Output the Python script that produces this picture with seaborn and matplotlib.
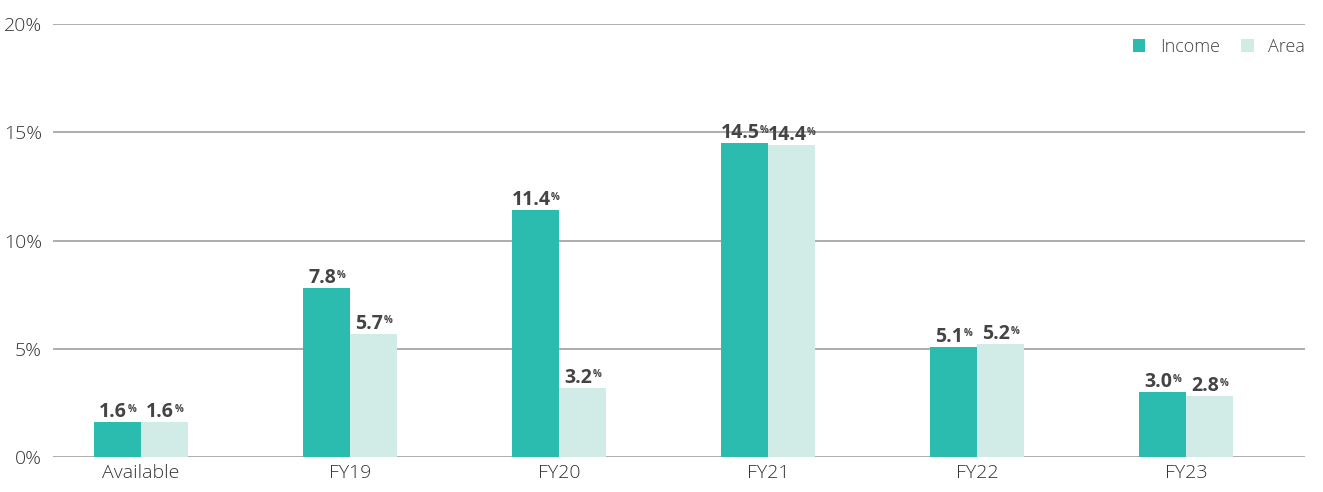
import pandas as pd
import matplotlib.pyplot as plt
import seaborn as sns

categories = ['Available', 'FY19', 'FY20', 'FY21', 'FY22', 'FY23']
income = [1.6, 7.8, 11.4, 14.5, 5.1, 3.0]
area = [1.6, 5.7, 3.2, 14.4, 5.2, 2.8]
series = ['Income', 'Area']
colors = ['#2bbcaf', '#d1ebe7']
yticks = [0, 5, 10, 15, 20]

df = pd.DataFrame({'cat': categories * 2,
                   'series': ['Income'] * len(categories) + ['Area'] * len(categories),
                   'value': income + area})

sns.set_style('white')
plt.rcParams['font.family'] = ['Open Sans', 'DejaVu Sans']

fig = plt.figure(figsize=(13.23, 4.92), dpi=100)
ax = fig.add_axes([0.040, 0.0711, 0.9464, 0.8801])

sns.barplot(data=df, x='cat', y='value', hue='series', hue_order=series,
            palette=colors, width=0.45, saturation=1, linewidth=0, ax=ax, zorder=3)

ax.set_ylim(0, 20)
ax.set_xlim(-0.42, 5.57)
ax.set_yticks(yticks)
ax.set_yticklabels([f'{t}%' for t in yticks])
ax.yaxis.grid(True, color='#a0a0a0', linewidth=1.2, zorder=0)
ax.set_axisbelow(True)
for s in ax.spines.values():
    s.set_visible(False)
ax.tick_params(axis='both', length=0, labelsize=14, labelcolor='#333333', pad=5)
ax.tick_params(axis='y', pad=8)
for lab in ax.get_xticklabels() + ax.get_yticklabels():
    lab.set_fontweight('light')
ax.set_xlabel('')
ax.set_ylabel('')

# value labels, small raised % after the number
for cont in ax.containers:
    for bar in cont:
        h = bar.get_height()
        xc = bar.get_x() + bar.get_width() / 2
        t = ax.annotate(f'{h:.1f}', (xc, h), xytext=(-3, 0), textcoords='offset points',
                        ha='center', va='bottom', fontsize=14, fontweight='bold', color='#444444')
        ax.annotate('%', xy=(1.0, 0.92), xycoords=t, xytext=(0.3, 0), textcoords='offset points',
                    ha='left', va='top', fontsize=7, fontweight='bold', color='#444444')

leg = ax.legend(loc='upper right', bbox_to_anchor=(1.006, 0.985), borderaxespad=0, ncol=2,
                frameon=False, handlelength=0.7, handleheight=0.7, handletextpad=0.8,
                columnspacing=1.2, fontsize=13)
for txt in leg.get_texts():
    txt.set_color('#444444')
    txt.set_fontweight('light')

fig.savefig('out.png', dpi=100)
